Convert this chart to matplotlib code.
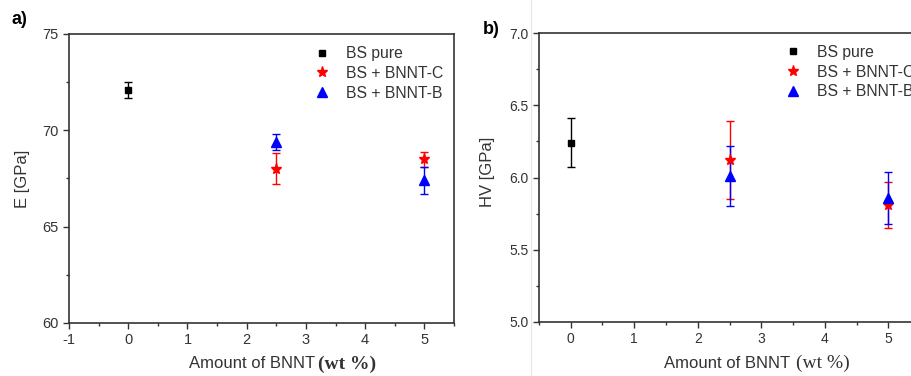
import matplotlib
matplotlib.use('Agg')
import matplotlib.pyplot as plt
from matplotlib.lines import Line2D
from matplotlib.ticker import MultipleLocator

# ---- datos ----
x_pure = [0]
x_bnnt = [2.5, 5]

e_pure = [72.1]
e_pure_err = [0.4]
e_c = [68.0, 68.5]
e_c_err = [0.8, 0.4]
e_b = [69.4, 67.4]
e_b_err = [0.4, 0.7]

hv_pure = [6.24]
hv_pure_err = [0.17]
hv_c = [6.12, 5.81]
hv_c_err = [0.27, 0.16]
hv_b = [6.01, 5.86]
hv_b_err = [0.21, 0.18]

etiquetas = ["BS pure", "BS + BNNT-C", "BS + BNNT-B"]

SANS = "Liberation Sans"
SERIF = "Liberation Serif"
GRIS = "#333333"

plt.rcParams["axes.unicode_minus"] = False

fig = plt.figure(figsize=(9.12, 3.76), dpi=100)
fig.patch.set_facecolor("white")

ax_a = fig.add_axes([0.0757, 0.141, 0.4221, 0.7686])
ax_b = fig.add_axes([0.591, 0.1444, 0.4178, 0.767])


def serie(ax, x, y, err, color, marker, ms, label):
    ax.errorbar(x, y, yerr=err, fmt=marker, color=color, ms=ms,
                ecolor=color, elinewidth=1.0, capsize=3, capthick=1.0,
                label=label, zorder=3)


def estilo(ax, fs_ticks):
    for s in ax.spines.values():
        s.set_color(GRIS)
        s.set_linewidth(1.2)
    ax.tick_params(which="both", direction="out", colors=GRIS,
                   labelsize=fs_ticks, top=False, right=False)
    ax.tick_params(which="major", length=4, width=1.0)
    ax.tick_params(which="minor", length=2, width=1.0)
    for t in ax.get_xticklabels() + ax.get_yticklabels():
        t.set_fontfamily(SANS)


# Panel a
serie(ax_a, x_pure, e_pure, e_pure_err, "black", "s", 5, etiquetas[0])
serie(ax_a, x_bnnt, e_c, e_c_err, "#ff0000", "*", 8, etiquetas[1])
serie(ax_a, x_bnnt, e_b, e_b_err, "#0000ff", "^", 7, etiquetas[2])
ax_a.set_xlim(-1, 5.5)
ax_a.set_ylim(60, 75)
ax_a.xaxis.set_major_locator(MultipleLocator(1))
ax_a.xaxis.set_minor_locator(MultipleLocator(0.5))
ax_a.yaxis.set_major_locator(MultipleLocator(5))
ax_a.yaxis.set_minor_locator(MultipleLocator(2.5))
estilo(ax_a, 10.5)
ax_a.set_ylabel("E [GPa]", fontfamily=SANS, fontsize=12, color=GRIS)
ax_a.yaxis.set_label_coords(-0.101, 0.498)

# Panel b
serie(ax_b, x_pure, hv_pure, hv_pure_err, "black", "s", 5, etiquetas[0])
serie(ax_b, x_bnnt, hv_c, hv_c_err, "#ff0000", "*", 8, etiquetas[1])
serie(ax_b, x_bnnt, hv_b, hv_b_err, "#0000ff", "^", 7, etiquetas[2])
ax_b.set_xlim(-0.5, 5.5)
ax_b.set_ylim(5.0, 7.0)
ax_b.xaxis.set_major_locator(MultipleLocator(1))
ax_b.xaxis.set_minor_locator(MultipleLocator(0.5))
ax_b.yaxis.set_major_locator(MultipleLocator(0.5))
ax_b.yaxis.set_minor_locator(MultipleLocator(0.25))
ax_b.yaxis.set_major_formatter(plt.FormatStrFormatter("%.1f"))
estilo(ax_b, 10)
ax_b.set_ylabel("HV [GPa]", fontfamily=SANS, fontsize=12, color=GRIS)
ax_b.yaxis.set_label_coords(-0.115, 0.519)

# Leyendas (la de b queda cortada en el borde, igual que el original)
for ax, anchor in ((ax_a, (0.638, 0.958)), (ax_b, (0.647, 0.96))):
    handles, labels = ax.get_legend_handles_labels()
    handles = [h[0] for h in handles]
    ax.legend(handles, labels, loc="upper left", bbox_to_anchor=anchor,
              frameon=False, borderpad=0, borderaxespad=0,
              handlelength=1.0, handletextpad=1.0, labelspacing=0.3,
              prop={"family": SANS, "size": 11.3}, labelcolor=GRIS)

# Etiquetas del eje x con fuente mixta
fig.text(315 / 912, 1 - 364 / 376, "Amount of BNNT", ha="right", va="center",
         fontfamily=SANS, fontsize=12, color=GRIS)
fig.text(318 / 912, 1 - 364 / 376, "(wt %)", ha="left", va="center",
         fontfamily=SERIF, fontsize=14, fontweight="bold", color=GRIS)
fig.text(790 / 912, 1 - 363 / 376, "Amount of BNNT", ha="right", va="center",
         fontfamily=SANS, fontsize=12, color=GRIS)
fig.text(796 / 912, 1 - 363 / 376, "(wt %)", ha="left", va="center",
         fontfamily=SERIF, fontsize=14, color=GRIS)

# Letras de panel
fig.text(12 / 912, 1 - 20 / 376, "a)", ha="left", va="center",
         fontfamily=SANS, fontsize=13, fontweight="bold", color="black")
fig.text(483 / 912, 1 - 29 / 376, "b)", ha="left", va="center",
         fontfamily=SANS, fontsize=13, fontweight="bold", color="black")

# borde tenue entre imagenes
fig.add_artist(Line2D([531 / 912, 531 / 912], [0, 1], color="#e6e6e6", lw=0.8))

fig.savefig("out.png", dpi=100)
